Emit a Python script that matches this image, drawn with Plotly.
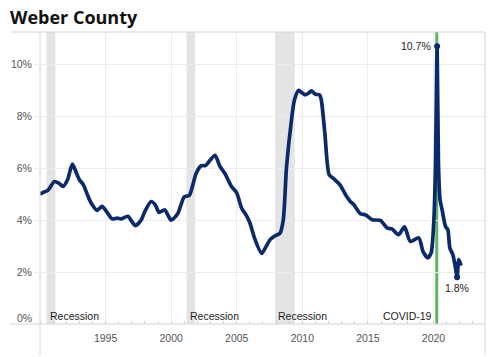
import plotly.graph_objects as go

TITLE = "Weber County"

YEARS = [1990.0, 1990.3, 1990.6, 1991.1, 1991.45, 1991.75, 1992.1, 1992.47, 1992.75,
         1993.0, 1993.3, 1993.6, 1993.9, 1994.35, 1994.73, 1995.06, 1995.5, 1995.88,
         1996.2, 1996.7, 1997.0, 1997.28, 1997.73, 1998.0, 1998.47, 1998.78, 1999.08,
         1999.5, 1999.75, 2000.0, 2000.5, 2001.0, 2001.38, 2001.9, 2002.3, 2002.6,
         2003.0, 2003.35, 2003.72, 2004.1, 2004.6, 2005.0, 2005.37, 2005.75, 2006.0,
         2006.4, 2006.9, 2007.2, 2007.55, 2007.93, 2008.3, 2008.55, 2008.8, 2009.18,
         2009.4, 2009.72, 2010.0, 2010.23, 2010.5, 2010.69, 2011.0, 2011.32, 2011.45,
         2011.72, 2012.05, 2012.35, 2012.86, 2013.37, 2013.66, 2013.92, 2014.43, 2014.8,
         2015.32, 2015.95, 2016.46, 2016.85, 2017.1, 2017.35, 2017.79, 2018.24, 2018.88,
         2019.2, 2019.57, 2019.82, 2020.02, 2020.15, 2020.28, 2020.38, 2020.5, 2020.66,
         2020.92, 2021.1, 2021.25, 2021.48, 2021.68, 2021.8, 2021.93, 2022.1]

RATES = [5.0, 5.08, 5.15, 5.49, 5.42, 5.3, 5.56, 6.16, 5.85,
         5.56, 5.37, 5.0, 4.66, 4.38, 4.53, 4.34, 4.05, 4.08,
         4.05, 4.15, 3.95, 3.79, 4.02, 4.34, 4.72, 4.6, 4.3,
         4.4, 4.2, 4.0, 4.25, 4.9, 4.95, 5.8, 6.1, 6.1,
         6.33, 6.5, 6.07, 5.8, 5.3, 5.05, 4.47, 4.17, 3.9,
         3.25, 2.72, 2.95, 3.25, 3.4, 3.5, 4.02, 6.07, 7.87,
         8.63, 9.0, 8.9, 8.83, 8.9, 8.98, 8.85, 8.83, 8.63,
         7.35, 5.75, 5.62, 5.37, 4.92, 4.72, 4.6, 4.25, 4.21,
         4.02, 3.99, 3.7, 3.66, 3.53, 3.44, 3.74, 3.18, 3.32,
         2.8, 2.55, 2.74, 3.89, 5.94, 10.7, 6.2, 4.8, 4.4,
         3.76, 3.63, 2.93, 2.67, 2.16, 1.8, 2.48, 2.25]

PEAK_YEAR, PEAK_RATE, PEAK_LABEL = 2020.28, 10.7, "10.7%"
LAST_YEAR, LAST_RATE, LAST_LABEL = 2021.8, 1.8, "1.8%"

RECESSIONS = [(1990.5, 1991.17), (2001.17, 2001.83), (2007.92, 2009.42)]
RECESSION_LABEL = "Recession"
COVID_YEAR = 2020.25
COVID_LABEL = "COVID-19"

X_TICKS = [1995, 2000, 2005, 2010, 2015, 2020]
X_TICK_TEXT = ["1995", "2000", "2005", "2010", "2015", "2020"]
Y_TICKS = [0, 2, 4, 6, 8, 10]
Y_TICK_TEXT = ["0%", "2%", "4%", "6%", "8%", "10%"]

NAVY = "#0b2a6c"
GREEN = "#5fb565"
FRAME = "#d6d6d6"
GRID = "#ececec"
FONT = "Liberation Sans, Arial, sans-serif"

fig = go.Figure()
fig.add_trace(go.Scatter(x=YEARS, y=RATES, mode="lines",
                         line=dict(color=NAVY, width=3.7, shape="spline", smoothing=0.7),
                         hoverinfo="skip", showlegend=False))
fig.add_trace(go.Scatter(x=[PEAK_YEAR, LAST_YEAR], y=[PEAK_RATE, LAST_RATE], mode="markers",
                         marker=dict(color=NAVY, size=6), hoverinfo="skip", showlegend=False))

shapes = []
for a, b in RECESSIONS:
    shapes.append(dict(type="rect", xref="x", yref="paper", x0=a, x1=b, y0=0, y1=1,
                       fillcolor="#e4e4e4", line=dict(width=0), layer="below"))
shapes.append(dict(type="line", xref="x", yref="paper", x0=COVID_YEAR, x1=COVID_YEAR,
                   y0=0, y1=1, line=dict(color=GREEN, width=3), layer="between"))
# frame lines
shapes.append(dict(type="line", xref="paper", yref="paper", x0=-30 / 445, x1=1, y0=1, y1=1,
                   line=dict(color=FRAME, width=1)))
shapes.append(dict(type="line", xref="paper", yref="paper", x0=-30 / 445, x1=1, y0=0, y1=0,
                   line=dict(color=FRAME, width=1)))
shapes.append(dict(type="line", xref="paper", yref="paper", x0=0, x1=0, y0=-31 / 292, y1=1,
                   line=dict(color=FRAME, width=1)))
shapes.append(dict(type="line", xref="paper", yref="paper", x0=1, x1=1, y0=-31 / 292, y1=1,
                   line=dict(color=FRAME, width=1)))

annotations = []
for a, b in RECESSIONS:
    annotations.append(dict(x=a, y=0, xref="x", yref="paper", text=RECESSION_LABEL,
                            showarrow=False, xanchor="left", yanchor="bottom", xshift=1, yshift=0,
                            font=dict(family=FONT, size=10.5, color="#222")))
annotations.append(dict(x=COVID_YEAR, y=0, xref="x", yref="paper", text=COVID_LABEL,
                        showarrow=False, xanchor="right", yanchor="bottom", xshift=-3, yshift=0,
                        font=dict(family=FONT, size=10.5, color="#222")))
annotations.append(dict(x=PEAK_YEAR, y=PEAK_RATE, xref="x", yref="y", text=PEAK_LABEL,
                        showarrow=False, xanchor="right", yanchor="middle", xshift=-4,
                        font=dict(family=FONT, size=10.5, color="#222")))
annotations.append(dict(x=LAST_YEAR, y=LAST_RATE, xref="x", yref="y", text=LAST_LABEL,
                        showarrow=False, xanchor="center", yanchor="top", yshift=-3,
                        font=dict(family=FONT, size=10.5, color="#222")))
annotations.append(dict(x=0, y=Y_TICKS[0], xref="paper", yref="y", text=Y_TICK_TEXT[0],
                        showarrow=False, xanchor="right", yanchor="middle", xshift=-6, yshift=6,
                        font=dict(family=FONT, size=10.5, color="#555")))

fig.update_layout(
    width=492, height=357,
    margin=dict(l=40, r=7, t=32, b=33),
    paper_bgcolor="white", plot_bgcolor="white",
    title=dict(text="<b>" + TITLE + "</b>", x=10 / 492, xanchor="left",
               y=1 - 17.5 / 357, yanchor="middle", font=dict(family="Open Sans", size=18, color="#111")),
    shapes=shapes, annotations=annotations,
    xaxis=dict(range=[1990, 2023.93], tickvals=X_TICKS, ticktext=X_TICK_TEXT,
               showgrid=True, gridcolor=GRID, gridwidth=1, zeroline=False, showline=False,
               ticks="", ticklabelstandoff=6,
               tickfont=dict(family=FONT, size=10.5, color="#555"),
               minor=dict(dtick=1, tick0=1990, ticks="inside", ticklen=3, tickcolor="#cfcfcf",
                          showgrid=False)),
    yaxis=dict(range=[0, 11.25], tickvals=Y_TICKS, ticktext=[""] + Y_TICK_TEXT[1:],
               showgrid=True, gridcolor=GRID, gridwidth=1, zeroline=False, showline=False,
               ticks="outside", ticklen=5, tickcolor=GRID,
               tickfont=dict(family=FONT, size=10.5, color="#555")),
)

fig.write_html("out.html", config={"displayModeBar": False},
               post_script="document.body.style.margin='0';document.body.style.overflow='hidden';")
